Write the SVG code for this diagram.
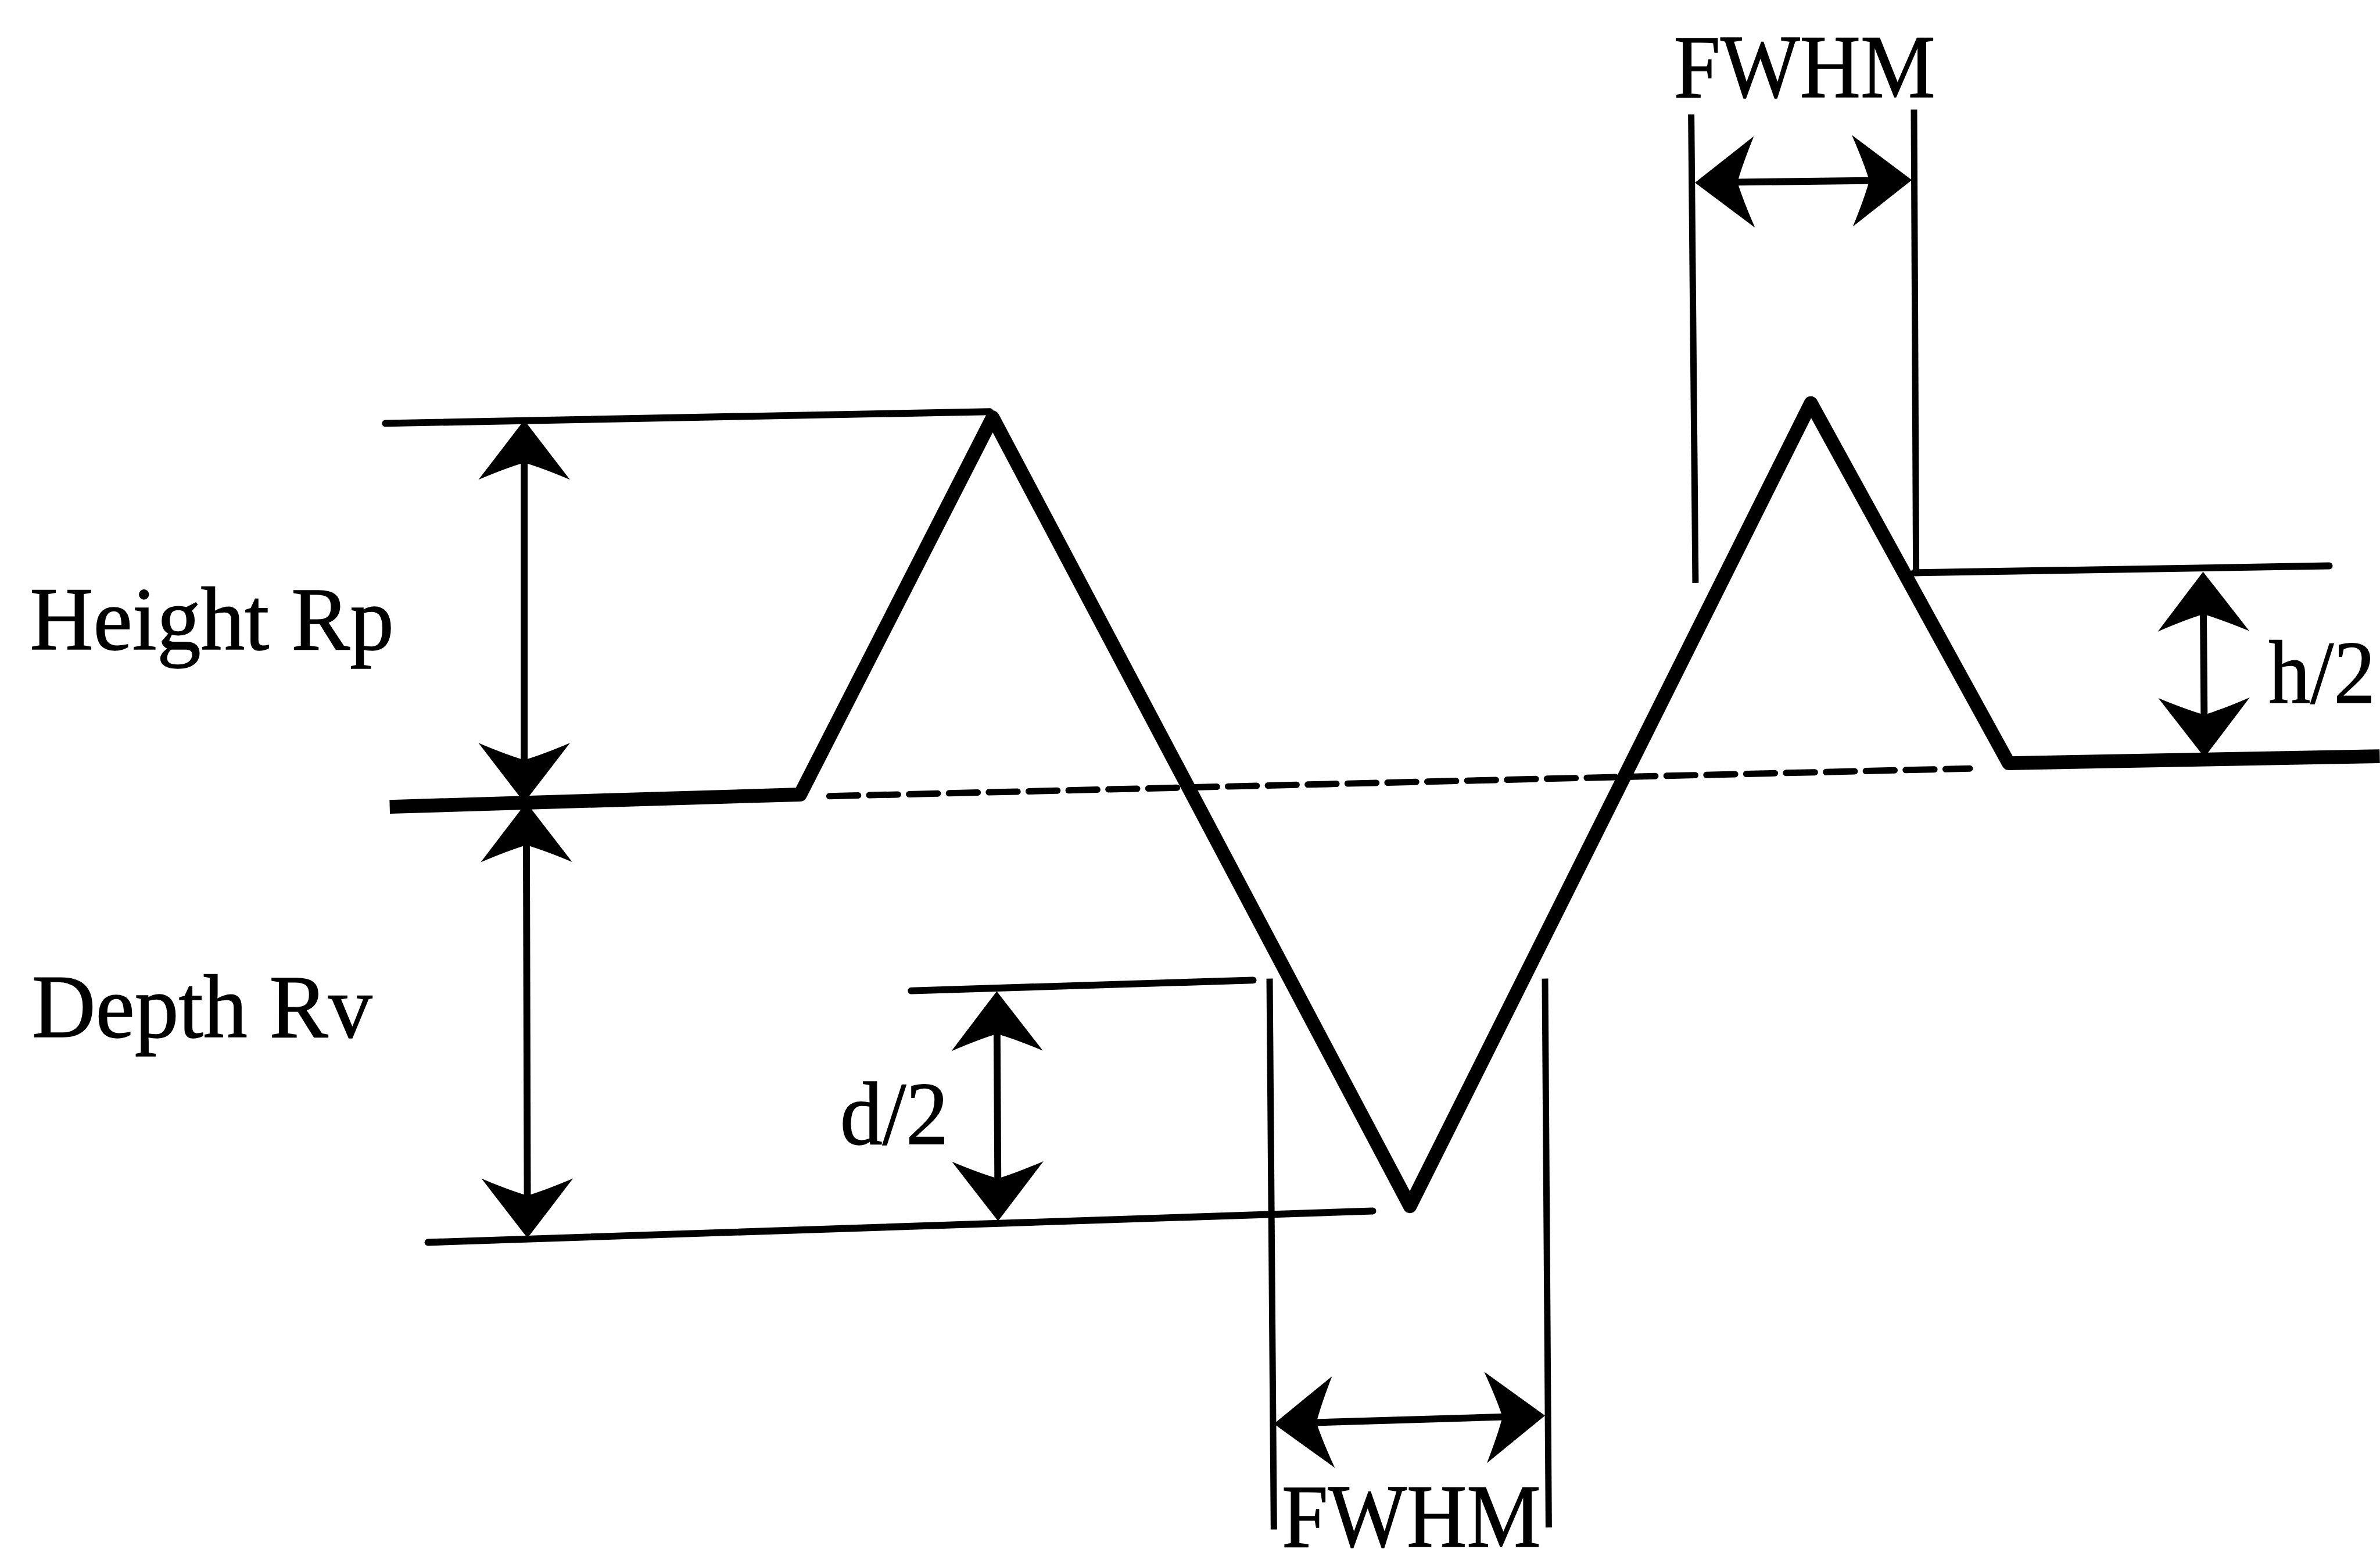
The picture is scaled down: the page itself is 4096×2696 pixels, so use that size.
<svg xmlns="http://www.w3.org/2000/svg" width="4096" height="2696" viewBox="0 0 4096 2696">
<style>
.bg{fill:#ffffff}
.prof{fill:none;stroke:#000;stroke-width:26;stroke-linejoin:round;stroke-linecap:butt}
.ref{fill:none;stroke:#000;stroke-width:13;stroke-linecap:round}
.ext{fill:none;stroke:#000;stroke-width:12;stroke-linecap:butt}
.dash{fill:none;stroke:#000;stroke-width:12;stroke-dasharray:54 21;stroke-linecap:round}
.dim{fill:none;stroke:#000;stroke-width:13;marker-start:url(#ah);marker-end:url(#ah)}
.lbl{font-family:"Liberation Serif","Times New Roman",serif;font-size:170px;fill:#000;stroke:#000;stroke-width:1.5}
</style>
<defs>
<marker id="ah" markerUnits="userSpaceOnUse" orient="auto-start-reverse" refX="0" refY="0" markerWidth="10" markerHeight="10" overflow="visible">
<path d="M40,0 Q-12,-40 -72,-86 Q-50,-34 -40,0 Q-50,34 -72,86 Q-12,40 40,0 Z" fill="#000"/>
</marker>
</defs>
<rect class="bg" x="0" y="0" width="4096" height="2696"/>
<g transform="scale(0.915)">
<g id="profile">
<path class="prof" d="M733,1517 L1505,1494 L1867,785 L2652,2268 L3406,758 L3778,1435 L4476,1422"/>
</g>
<g id="mean-line">
<line class="dash" x1="1560" y1="1497" x2="3705" y2="1445"/>
</g>
<g id="reference-lines">
<line class="ref" x1="725" y1="796" x2="1862" y2="774"/>
<line class="ref" x1="805" y1="2336" x2="2582" y2="2277"/>
<line class="ref" x1="1714" y1="1863" x2="2357" y2="1843"/>
<line class="ref" x1="3600" y1="1077" x2="4381" y2="1064"/>
<line class="ext" x1="2388" y1="1840" x2="2396" y2="2876"/>
<line class="ext" x1="2906" y1="1840" x2="2913" y2="2872"/>
<line class="ext" x1="3181" y1="215" x2="3189" y2="1096"/>
<line class="ext" x1="3600" y1="206" x2="3604" y2="1077"/>
</g>
<g id="connectors">
<line class="dim" x1="986" y1="830" x2="986" y2="1469"/>
<line class="dim" x1="990" y1="1549" x2="992" y2="2288"/>
<line class="dim" x1="1875" y1="1904" x2="1877" y2="2256"/>
<line class="dim" x1="2436" y1="2676" x2="2866" y2="2663"/>
<line class="dim" x1="3228" y1="343" x2="3556" y2="339"/>
<line class="dim" x1="4144" y1="1115" x2="4146" y2="1384"/>
</g>
<g id="label-height"><text class="lbl" x="56" y="1221" textLength="685" lengthAdjust="spacingAndGlyphs">Height Rp</text></g>
<g id="label-depth"><text class="lbl" x="60" y="1950" textLength="640" lengthAdjust="spacingAndGlyphs">Depth Rv</text></g>
<g id="label-d2"><text class="lbl" x="1580" y="2151" textLength="204" lengthAdjust="spacingAndGlyphs">d/2</text></g>
<g id="label-h2"><text class="lbl" x="4267" y="1321" textLength="201" lengthAdjust="spacingAndGlyphs">h/2</text></g>
<g id="label-fwhm-top"><text class="lbl" x="3148" y="182" textLength="492" lengthAdjust="spacingAndGlyphs">FWHM</text></g>
<g id="label-fwhm-bottom"><text class="lbl" x="2411" y="2908" textLength="487" lengthAdjust="spacingAndGlyphs">FWHM</text></g>
</g>
</svg>
